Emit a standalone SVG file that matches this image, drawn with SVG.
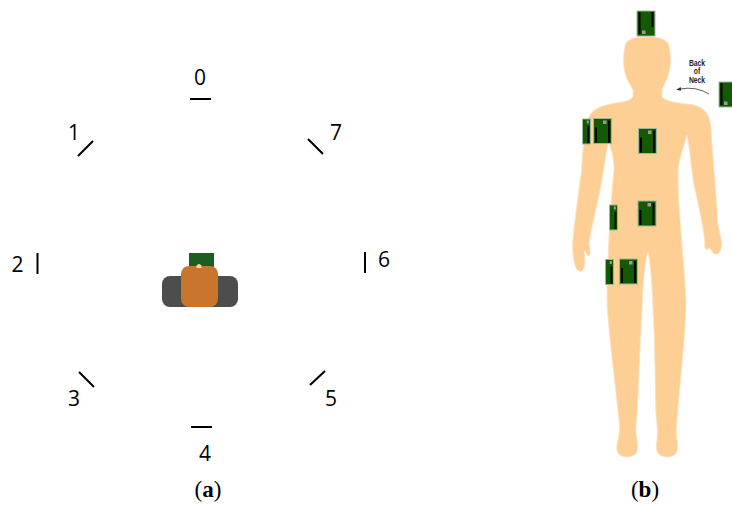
<svg xmlns="http://www.w3.org/2000/svg" width="732" height="507" viewBox="0 0 732 507">
  <style>
    .num { font-family: "Open Sans", "Liberation Sans", sans-serif; font-size: 21px; fill: #000; text-anchor: middle; }
    .cap { font-family: "Liberation Serif", serif; font-size: 23px; fill: #000; text-anchor: middle; }
    .tick { stroke: #000; stroke-width: 2; stroke-linecap: butt; fill: none; }
    .note { font-family: "Liberation Sans Narrow", "Liberation Sans", sans-serif; font-size: 8.5px; font-weight: bold; fill: #222; text-anchor: middle; }
    .board { fill: #145a05; stroke: #9db79a; stroke-width: 1; }
    .stripe { fill: #000; }
    .chip { fill: #9a9a9a; }
  </style>
  <defs>
    <!-- wide sensor board, 18 x 25 -->
    <g id="sensorWide">
      <rect class="board" x="0" y="0" width="18" height="25"/>
      <rect class="stripe" x="1.5" y="9" width="2" height="15"/>
      <rect class="stripe" x="14.5" y="2" width="2" height="22"/>
      <rect class="chip" x="9.5" y="2" width="3.5" height="3.5"/>
    </g>
    <!-- narrow sensor board, 8 x 25 -->
    <g id="sensorNarrow">
      <rect class="board" x="0" y="0" width="8" height="25"/>
      <rect class="stripe" x="5" y="7" width="1.8" height="17"/>
      <rect class="chip" x="4.3" y="1.5" width="2" height="3"/>
    </g>
    <marker id="arrowHead" viewBox="0 0 10 10" refX="2" refY="5" markerWidth="6" markerHeight="6" orient="auto-start-reverse">
      <path d="M0,1 L10,5 L0,9 Z" fill="#333"/>
    </marker>
  </defs>

  <!-- (a) robot with eight surrounding positions -->
  <g id="positions">
    <g id="pos0"><line class="tick" x1="190" y1="99" x2="211" y2="99"/><text class="num" x="200" y="85">0</text></g>
    <g id="pos1"><line class="tick" x1="78" y1="156" x2="93" y2="141"/><text class="num" x="74" y="140">1</text></g>
    <g id="pos2"><line class="tick" x1="37.5" y1="253" x2="37.5" y2="274"/><text class="num" x="17.5" y="272">2</text></g>
    <g id="pos3"><line class="tick" x1="79" y1="372" x2="94" y2="387"/><text class="num" x="74" y="406">3</text></g>
    <g id="pos4"><line class="tick" x1="191" y1="427" x2="212" y2="427"/><text class="num" x="205" y="461">4</text></g>
    <g id="pos5"><line class="tick" x1="310" y1="385" x2="325" y2="371"/><text class="num" x="331" y="406">5</text></g>
    <g id="pos6"><line class="tick" x1="365" y1="252" x2="365" y2="273"/><text class="num" x="384" y="267">6</text></g>
    <g id="pos7"><line class="tick" x1="308" y1="139" x2="323" y2="154"/><text class="num" x="336" y="140">7</text></g>
  </g>

  <g id="robot">
    <rect x="162" y="276" width="76" height="31" rx="8" fill="#4d4d4d"/>
    <rect x="189" y="253" width="25" height="15" fill="#1b5e20"/>
    <rect x="181" y="266" width="37" height="41" rx="8" fill="#c8762d"/>
    <path d="M196.5,268 L196.5,265.5 Q199,262.5 201.5,265.5 L201.5,268 Z" fill="#f7d98b"/>
  </g>

  <text id="captionA" class="cap" x="208" y="497">(<tspan font-weight="bold">a</tspan>)</text>

  <!-- (b) body silhouette with sensor placements -->
  <g id="body">
    <path fill="#fdcf95" stroke="#fde2bf" stroke-width="0.8" d="M647,37
      C657,37 667,38 669,46 C671,55 671,68 668,76 C666,82 663,86 662,90 L662,97
      C668,103 682,103 694,105 C706,108 710,116 711,128
      C712,150 716,190 718,225 C720,235 723,243 721,249 C720,253 716,256 713,253
      C711,250 710,246 708,249 C706,251 704,248 705,244
      C704,232 700,210 694,185 C691,165 690,150 687,135
      C683,150 678,160 678,175 C678,210 684,260 686,300
      C686,330 680,380 677,420 C676,430 676,432 677,440 C679,450 677,457 667,457
      C657,457 655,450 657,440 C658,430 657,425 656,415
      C655,380 655,340 653,310 C652,280 650,260 648,252
      C645,260 643,280 642,310 C640,340 639,380 637,415
      C636,425 635,430 637,440 C639,450 637,457 627,457
      C617,457 615,450 618,440 C620,432 620,428 619,420
      C615,380 608,330 607,300 C607,260 611,200 614,170
      C614,158 612,150 608,142 C605,160 603,175 600,190
      C596,210 591,230 589,243 C590,250 591,256 588,256
      C586,254 586,250 584,251 C585,258 586,268 582,271
      C579,272 576,270 575,265 C573,258 572,248 573,238
      C575,220 578,195 581,175 C583,155 583,130 590,115
      C595,106 610,104 622,102 C628,101 633,99 633,96 L633,90
      C631,86 628,82 626,76 C623,68 623,55 625,46 C627,38 637,37 647,37 Z"/>
  </g>

  <g id="sensorHead"><use href="#sensorWide" transform="translate(655,36) rotate(180)"/></g>
  <g id="sensorNeck"><use href="#sensorWide" transform="translate(737,107) rotate(180)"/></g>
  <g id="sensorUpperArm">
    <use href="#sensorNarrow" x="582.5" y="119"/>
    <use href="#sensorWide" x="593.5" y="118.5"/>
  </g>
  <g id="sensorChest"><use href="#sensorWide" x="638.5" y="128.5"/></g>
  <g id="sensorWaist">
    <use href="#sensorNarrow" x="609.5" y="205"/>
    <use href="#sensorWide" x="638" y="201"/>
  </g>
  <g id="sensorThigh">
    <use href="#sensorNarrow" x="605.5" y="259.5"/>
    <use href="#sensorWide" x="619.5" y="259"/>
  </g>

  <g id="neckNote">
    <g transform="translate(697,0) scale(0.8,1)">
      <text class="note" x="0" y="66">Back</text>
      <text class="note" x="0" y="74.5">of</text>
      <text class="note" x="0" y="83">Neck</text>
    </g>
  </g>
  <g id="connectors">
    <path d="M709,94 Q696,86 680,89" fill="none" stroke="#333" stroke-width="0.8" marker-end="url(#arrowHead)"/>
  </g>

  <text id="captionB" class="cap" x="645" y="497">(<tspan font-weight="bold">b</tspan>)</text>
</svg>
